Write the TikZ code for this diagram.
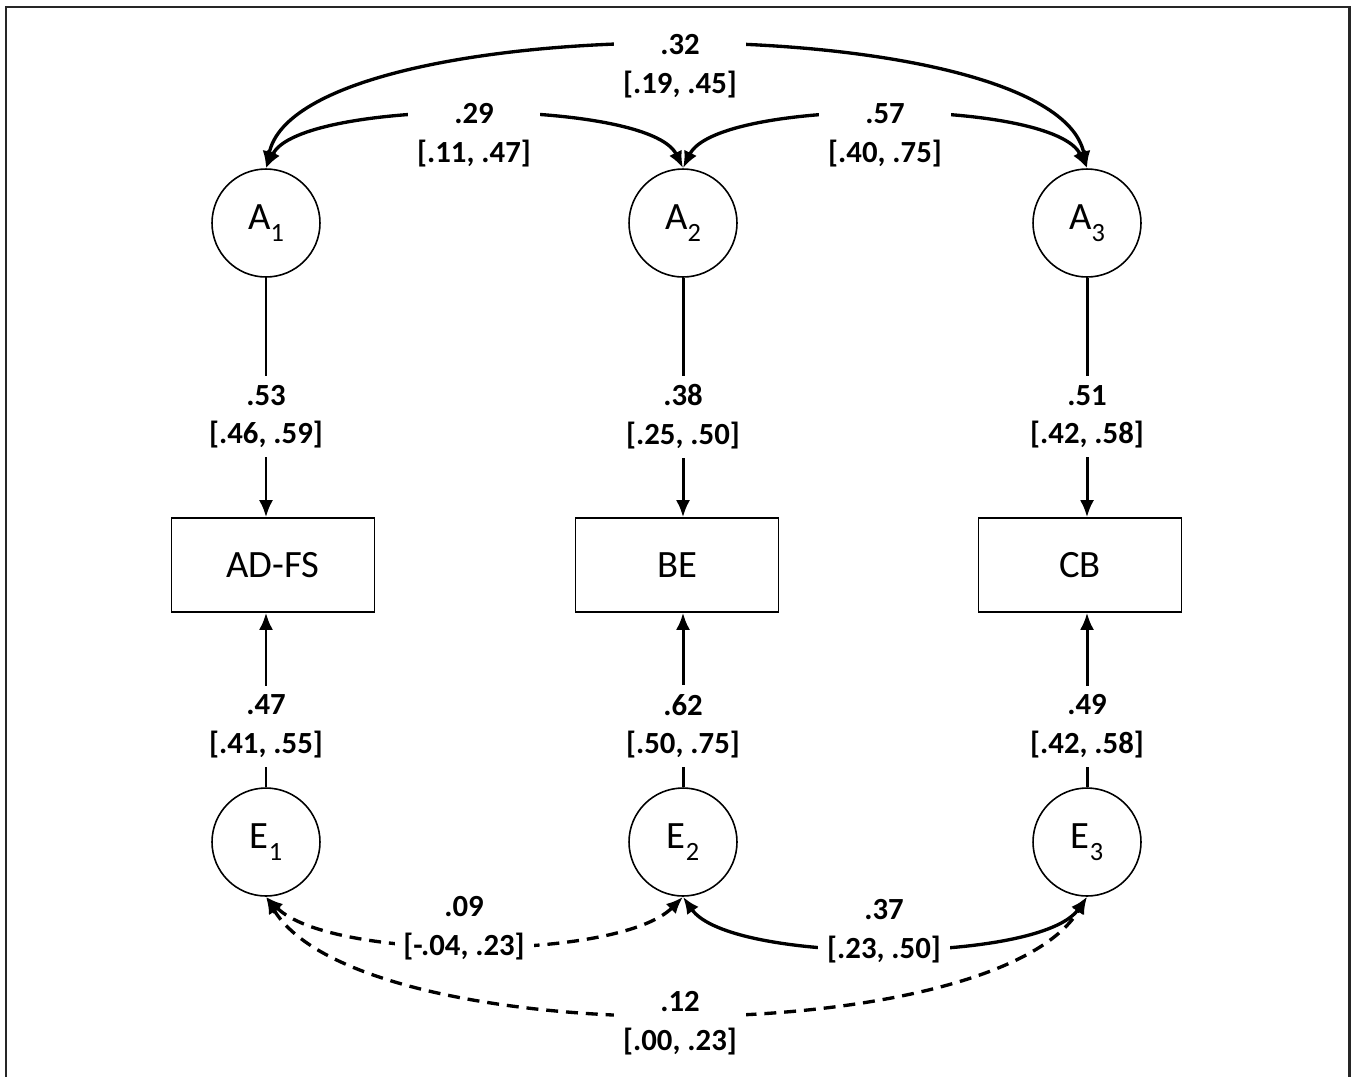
\documentclass[tikz,border=0pt]{standalone}
\usepackage{fontspec}
\setmainfont{Carlito}
\usetikzlibrary{arrows.meta}
\newcommand{\estci}[2]{#1\\\relax[#2]}
\newcommand{\lsub}[1]{\raisebox{-0.3em}{\fontsize{15}{15}\selectfont #1}}
\begin{document}
\begin{tikzpicture}[x=0.02cm,y=-0.02cm,
    latent/.style={draw,circle,line width=0.9pt,minimum size=2.16cm,inner sep=0pt,
      font=\fontsize{22}{26}\selectfont},
    observed/.style={draw,rectangle,line width=0.9pt,minimum width=4.06cm,minimum height=1.88cm,
      font=\fontsize{22}{26}\selectfont},
    est/.style={fill=white,align=center,inner sep=5pt,font=\bfseries\fontsize{17.5}{22}\selectfont},
    link/.style={line width=1.7pt,-{Latex[length=3.4mm,width=2.8mm]}},
    cov/.style={line width=1.9pt,{Latex[length=3.4mm,width=2.8mm]}-{Latex[length=3.4mm,width=2.8mm]}},
    nonsig/.style={dash pattern=on 6.8pt off 4.5pt}]
  \useasboundingbox (0,0) rectangle (1351,1076);
  \draw[line width=1.7pt,black!85] (6,1090) -- (6,7) -- (1349,7) -- (1349,1090);
  % latent factors and errors
  \node[latent] (A1) at (266,223) {A\lsub{1}};
  \node[latent] (A2) at (683,223) {A\lsub{2}};
  \node[latent] (A3) at (1087,223) {A\lsub{3}};
  \node[latent] (E1) at (266,842) {E\lsub{1}};
  \node[latent] (E2) at (683,842) {E\lsub{2}};
  \node[latent] (E3) at (1087,842) {E\lsub{3}};
  % observed measures
  \node[observed] (adfs) at (273,565) {AD-FS};
  \node[observed] (be) at (677,565) {BE};
  \node[observed] (cb) at (1080,565) {CB};
  % loadings
  \draw[link] (A1.south) -- (A1.south |- adfs.north) node[est,pos=0.58] (la1) {\estci{.53}{.46, .59}};
  \draw[link] (A2.south) -- (A2.south |- be.north) node[est,pos=0.58] (la2) {\estci{.38}{.25, .50}};
  \draw[link] (A3.south) -- (A3.south |- cb.north) node[est,pos=0.58] (la3) {\estci{.51}{.42, .58}};
  \draw[link] (E1.north) -- (E1.north |- adfs.south) node[est,pos=0.35] (le1) {\estci{.47}{.41, .55}};
  \draw[link] (E2.north) -- (E2.north |- be.south) node[est,pos=0.35] (le2) {\estci{.62}{.50, .75}};
  \draw[link] (E3.north) -- (E3.north |- cb.south) node[est,pos=0.35] (le3) {\estci{.49}{.42, .58}};
  % covariances
  \draw[cov] (A1.north) .. controls (300,6) and (1053,6) .. (A3.north);
  \draw[cov] (A1.north) .. controls (300,98) and (649,98) .. (A2.north);
  \draw[cov] (A2.north) .. controls (717,98) and (1053,98) .. (A3.north);
  \draw[cov,nonsig] (E1.south) .. controls (330,961) and (619,961) .. (E2.south);
  \draw[cov] (E2.south) .. controls (730,964) and (1040,964) .. (E3.south);
  \draw[cov,nonsig] (E1.south) .. controls (360,1052) and (993,1052) .. (E3.south);
  \node[est] (ca13) at (680,66) {\estci{.32}{.19, .45}};
  \node[est] (ca12) at (474,135) {\estci{.29}{.11, .47}};
  \node[est] (ca23) at (885,135) {\estci{.57}{.40, .75}};
  \node[est] (ce12) at (464,928) {\estci{.09}{-.04, .23}};
  \node[est] (ce23) at (884,931) {\estci{.37}{.23, .50}};
  \node[est] (ce13) at (680,1023) {\estci{.12}{.00, .23}};
\end{tikzpicture}
\end{document}
